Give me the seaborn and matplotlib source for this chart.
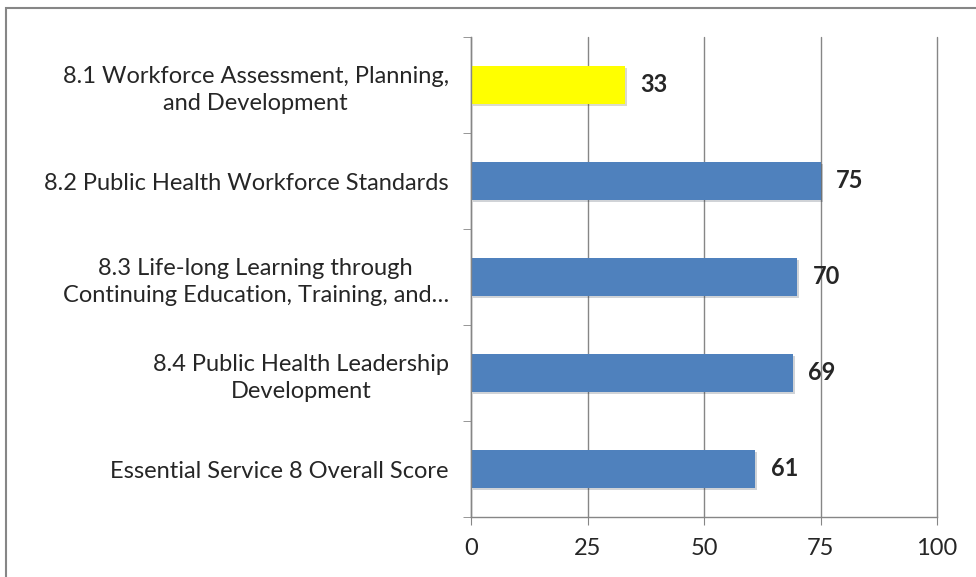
import pandas as pd
import seaborn as sns
import matplotlib.pyplot as plt
from matplotlib.patches import Rectangle
from matplotlib.ticker import FixedLocator
import matplotlib.patheffects as pe

categories = [
    "8.1 Workforce Assessment, Planning,\nand Development",
    "8.2 Public Health Workforce Standards",
    "8.3 Life-long Learning through\nContinuing Education, Training, and…",
    "8.4 Public Health Leadership\nDevelopment",
    "Essential Service 8 Overall Score",
]
scores = [33, 75, 70, 69, 61]
bar_colors = ["#FFFF00", "#4F81BD", "#4F81BD", "#4F81BD", "#4F81BD"]
x_ticks = [0, 25, 50, 75, 100]

df = pd.DataFrame({"Category": categories, "Score": scores})

sns.set_style("white")
plt.rcParams['font.family'] = ['Lato', 'DejaVu Sans']

fig = plt.figure(figsize=(9.76, 5.77), dpi=100)
ax = fig.add_axes([471 / 976, 1 - 517 / 577, (937 - 471) / 976, (517 - 37) / 577])

sns.barplot(data=df, y="Category", x="Score", hue="Category", palette=bar_colors,
            orient="h", width=0.4, legend=False, ax=ax, saturation=1, linewidth=0)

for bar in ax.patches:
    bar.set_path_effects([pe.SimplePatchShadow(offset=(1.5, -1.5), alpha=0.2), pe.Normal()])

for cont in ax.containers:
    for t in ax.bar_label(cont, fmt="%d", padding=11, fontsize=17, fontweight="bold"):
        t.set_y(t.get_position()[1] + 0.03)

ax.set_xlim(0, 100)
ax.set_ylim(len(categories) - 0.5, -0.5)
ax.set_xticks(x_ticks)
ax.set_xlabel("")
ax.set_ylabel("")
ax.xaxis.grid(True, color="#868686", linewidth=1)
for gl in ax.get_xgridlines():
    gl.set_clip_on(False)
ax.set_axisbelow(True)

for side in ["top", "right"]:
    ax.spines[side].set_visible(False)
for side in ["left", "bottom"]:
    ax.spines[side].set_color("#868686")
    ax.spines[side].set_linewidth(1)

ax.tick_params(axis="x", length=6, color="#868686", labelsize=17, pad=9, bottom=True)
ax.tick_params(axis="y", which="major", length=0, labelsize=17, pad=16)
ax.yaxis.set_minor_locator(FixedLocator([i - 0.5 for i in range(len(categories) + 1)]))
ax.tick_params(axis="y", which="minor", length=6, color="#868686", left=True)
for lbl in ax.get_yticklabels():
    lbl.set_multialignment("center")
    lbl.set_linespacing(1.35)

# outer chart border
fig.patches.append(Rectangle((6 / 976, -0.1), 2, 1.1 - 8 / 577, transform=fig.transFigure,
                             fill=False, edgecolor="#868686", linewidth=1.5))

fig.savefig("out.png", dpi=100)
